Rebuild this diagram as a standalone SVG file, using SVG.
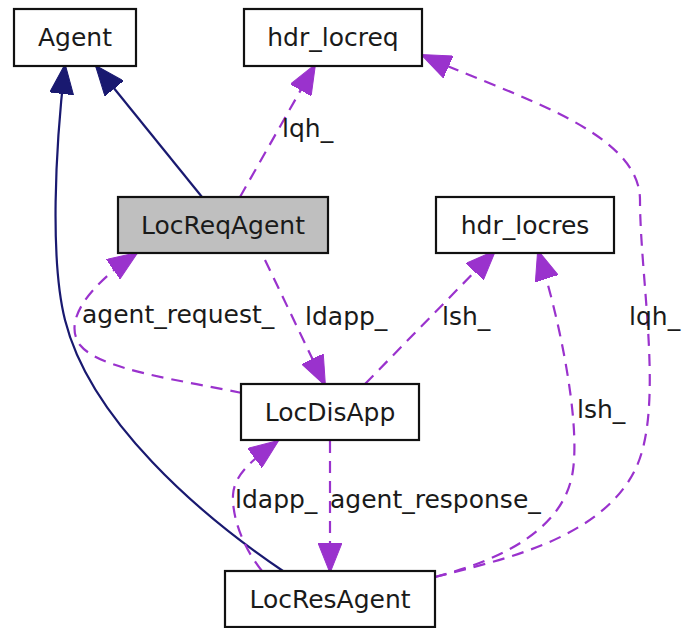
<svg xmlns="http://www.w3.org/2000/svg" width="682" height="628" viewBox="0 0 682 628">
  <style>
    .box { fill: #ffffff; stroke: #111111; stroke-width: 2.2; }
    .main { fill: #bfbfbf; }
    .lbl { font-family: "DejaVu Sans", "Bitstream Vera Sans", sans-serif; font-size: 25px; fill: #1a1a1a; }
    .nm { text-anchor: middle; }
    .inh { fill: none; stroke: #191970; stroke-width: 2.2; marker-end: url(#ah-inh); }
    .use { fill: none; stroke: #9a32cd; stroke-width: 2.2; stroke-dasharray: 12 8; marker-end: url(#ah-use); }
  </style>
  <defs>
    <marker id="ah-inh" markerUnits="userSpaceOnUse" markerWidth="30" markerHeight="24" viewBox="0 0 30 24" refX="29" refY="12" orient="auto">
      <path d="M0,0 L30,12 L0,24 z" fill="#191970" stroke="#191970" stroke-width="1"/>
    </marker>
    <marker id="ah-use" markerUnits="userSpaceOnUse" markerWidth="30" markerHeight="24" viewBox="0 0 30 24" refX="29" refY="12" orient="auto">
      <path d="M0,0 L30,12 L0,24 z" fill="#9a32cd" stroke="#9a32cd" stroke-width="1"/>
    </marker>
  </defs>
  <rect width="682" height="628" fill="#ffffff"/>

  <g id="edges">
    <!-- inheritance -->
    <path class="inh" d="M202,197 L96,66"/>
    <path class="inh" d="M283,571 C200,515 90,420 65,320 C50,260 55,150 65,65"/>
    <!-- usage -->
    <path class="use" d="M240,197 L315,65"/>
    <path class="use" d="M435,577 C500,560 600,540 635,470 C665,410 640,280 640,200 C640,130 510,95 422,55"/>
    <path class="use" d="M242,393 C180,380 100,370 80,345 C62,320 90,285 137,253"/>
    <path class="use" d="M265,260 L325,385"/>
    <path class="use" d="M365,384 L495,251"/>
    <path class="use" d="M435,577 C500,560 565,530 573,470 C580,420 560,320 538,251"/>
    <path class="use" d="M330,441 L330,572"/>
    <path class="use" d="M262,571 C245,550 232,520 233,495 C234,475 252,460 278,441"/>
    <!-- edge labels -->
    <text class="lbl" x="282" y="137">lqh_</text>
    <text class="lbl" x="629" y="325">lqh_</text>
    <text class="lbl" x="82" y="323">agent_request_</text>
    <text class="lbl" x="305" y="325">ldapp_</text>
    <text class="lbl" x="442" y="325">lsh_</text>
    <text class="lbl" x="577" y="418">lsh_</text>
    <text class="lbl" x="330" y="508">agent_response_</text>
    <text class="lbl" x="235" y="508">ldapp_</text>
  </g>

  <g id="node-Agent">
    <rect class="box" x="14" y="9" width="122" height="57"/>
    <text class="lbl nm" x="75" y="46">Agent</text>
  </g>
  <g id="node-hdr_locreq">
    <rect class="box" x="244" y="9" width="178" height="57"/>
    <text class="lbl nm" x="333" y="46">hdr_locreq</text>
  </g>
  <g id="node-LocReqAgent">
    <rect class="box main" x="118" y="197" width="210" height="56"/>
    <text class="lbl nm" x="223" y="234">LocReqAgent</text>
  </g>
  <g id="node-hdr_locres">
    <rect class="box" x="436" y="197" width="178" height="56"/>
    <text class="lbl nm" x="525" y="234">hdr_locres</text>
  </g>
  <g id="node-LocDisApp">
    <rect class="box" x="241" y="384" width="178" height="56"/>
    <text class="lbl nm" x="330" y="421">LocDisApp</text>
  </g>
  <g id="node-LocResAgent">
    <rect class="box" x="225" y="571" width="210" height="56"/>
    <text class="lbl nm" x="330" y="608">LocResAgent</text>
  </g>
</svg>
